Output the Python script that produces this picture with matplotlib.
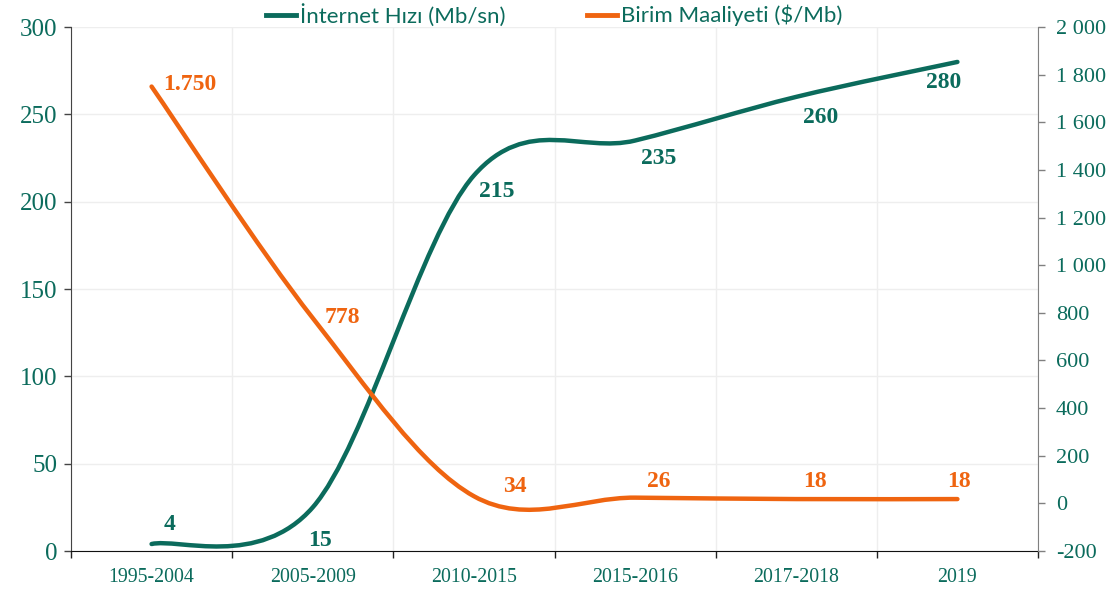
import numpy as np
import matplotlib
matplotlib.use("Agg")
import matplotlib.pyplot as plt
from matplotlib.path import Path
from matplotlib.patches import PathPatch
from matplotlib.lines import Line2D
from matplotlib.ticker import FuncFormatter, MultipleLocator

# ===== Data =====
periods = ["1995-2004", "2005-2009", "2010-2015", "2015-2016", "2017-2018", "2019"]
speed = [4, 25, 215, 235, 260, 280]          # Mb/sn, left axis (as drawn)
speed_labels = ["4", "15", "215", "235", "260", "280"]
cost = [1750, 778, 30, 24, 18, 18]           # $/Mb, right axis (as drawn)
cost_labels = ["1.750", "778", "34", "26", "18", "18"]

speed_name = "İnternet Hızı (Mb/sn)"
cost_name = "Birim Maaliyeti ($/Mb)"

# label offsets in pixels (dx, dy)
speed_off = [(18, 20), (7, -33), (23, -16), (24, -18), (24, -21), (-14, -21)]
cost_off = [(38, 2), (30, 1), (41, 10), (24, 16), (19, 18), (2, 18)]

teal = "#0b6b5c"
orange = "#ef6410"
serif = ["Liberation Serif", "DejaVu Serif"]


def smooth_path(xs, ys):
    # Catmull-Rom style cubic bezier through the points (Excel "smoothed line")
    pts = np.column_stack([xs, ys]).astype(float)
    n = len(pts)
    verts = [pts[0]]
    codes = [Path.MOVETO]
    for i in range(n - 1):
        p0 = pts[max(i - 1, 0)]
        p1 = pts[i]
        p2 = pts[i + 1]
        p3 = pts[min(i + 2, n - 1)]
        c1 = p1 + (p2 - p0) / 6.0
        c2 = p2 - (p3 - p1) / 6.0
        verts += [c1, c2, p2]
        codes += [Path.CURVE4] * 3
    return Path(verts, codes)


fig = plt.figure(figsize=(11.2, 5.92), dpi=100)
ax = fig.add_axes([71 / 1120, 1 - 551 / 592, (1038 - 71) / 1120, (551 - 27) / 592])
ax2 = ax.twinx()

x = np.arange(len(periods))

ax.add_patch(PathPatch(smooth_path(x, speed), fill=False, edgecolor=teal,
                       lw=3.2, capstyle="round", zorder=3, clip_on=False))
ax2.add_patch(PathPatch(smooth_path(x, cost), fill=False, edgecolor=orange,
                        lw=3.2, capstyle="round", zorder=3, clip_on=False))

for i, v in enumerate(speed):
    ax.annotate(speed_labels[i], (x[i], v), xytext=speed_off[i], textcoords="offset pixels",
                ha="center", va="center", color=teal, fontsize=17,
                fontweight="bold", family=serif, zorder=5)
for i, v in enumerate(cost):
    ax2.annotate(cost_labels[i], (x[i], v), xytext=cost_off[i], textcoords="offset pixels",
                 ha="center", va="center", color=orange, fontsize=17,
                 fontweight="bold", family=serif, zorder=5)

# ===== Axes =====
ax.set_xlim(-0.5, len(periods) - 0.5)
ax.set_ylim(0, 300)
ax2.set_ylim(-200, 2000)
ax.yaxis.set_major_locator(MultipleLocator(50))
ax2.yaxis.set_major_locator(MultipleLocator(200))
ax2.yaxis.set_major_formatter(FuncFormatter(lambda v, p: f"{int(v):,}".replace(",", " ")))

ax.set_xticks(x)
ax.set_xticklabels(periods)
ax.set_xticks(np.arange(-0.5, len(periods), 1.0), minor=True)
ax.tick_params(axis="x", which="major", length=0, pad=12, labelsize=14.3, labelcolor=teal)
ax.tick_params(axis="x", which="minor", length=5, width=1, color="#222222")
ax.tick_params(axis="y", length=5, width=1, color="#444444", labelsize=18, labelcolor=teal, pad=5)
ax2.tick_params(axis="y", length=5, width=1, color="#808080", labelsize=16, labelcolor=teal, pad=8)
for lab in ax.get_xticklabels() + ax.get_yticklabels() + ax2.get_yticklabels():
    lab.set_family(serif)

ax.grid(axis="y", color="#eeeeee", lw=1)
ax.grid(axis="x", which="minor", color="#eeeeee", lw=1)
ax.set_axisbelow(True)

for a in (ax, ax2):
    a.spines["top"].set_visible(False)
    a.spines["right"].set_visible(False)
    a.spines["left"].set_visible(False)
ax.spines["left"].set_visible(True)
ax.spines["left"].set_color("#444444")
ax.spines["bottom"].set_color("#111111")
ax2.spines["right"].set_visible(True)
ax2.spines["right"].set_color("#808080")
ax2.spines["bottom"].set_visible(False)

handles = [Line2D([], [], color=teal, lw=3.5), Line2D([], [], color=orange, lw=3.5)]
fig.legend(handles, [speed_name, cost_name], loc="center", bbox_to_anchor=(554 / 1120, 1 - 15 / 592),
           ncol=2, frameon=False, handlelength=1.35, handletextpad=0.18, columnspacing=3.65,
           prop={"family": ["Lato", "DejaVu Sans"], "size": 16},
           labelcolor=teal)

fig.savefig("out.png", dpi=100)
